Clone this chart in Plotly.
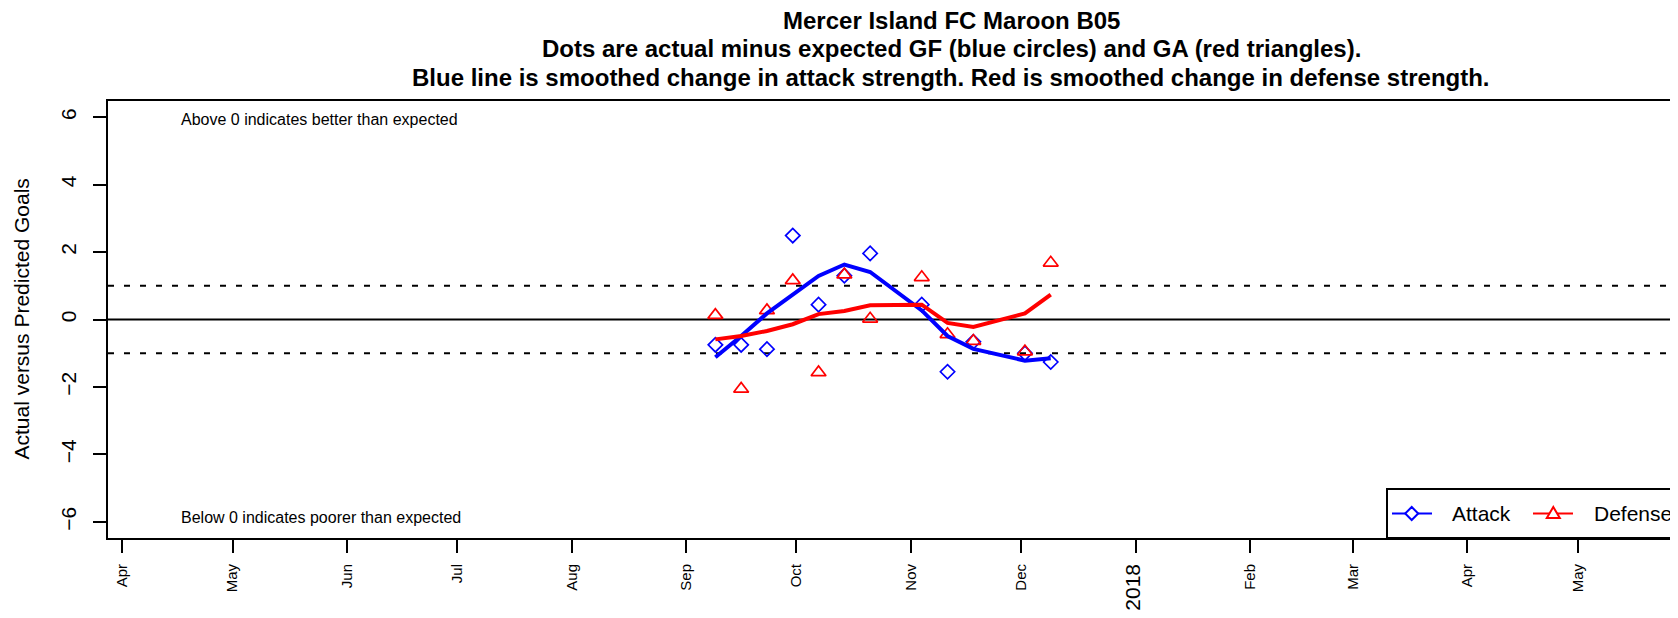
import plotly.graph_objects as go

# ---------------- data ----------------
game_dates = ["2017-09-09", "2017-09-16", "2017-09-23", "2017-09-30", "2017-10-07",
              "2017-10-14", "2017-10-21", "2017-11-04", "2017-11-11", "2017-11-18",
              "2017-12-02", "2017-12-09"]
attack_points = [-0.75, -0.75, -0.88, 2.49, 0.44, 1.30, 1.96, 0.44, -1.55, -0.66, -1.00, -1.26]
defense_points = [0.13, -2.06, 0.27, 1.16, -1.57, 1.33, 0.02, 1.25, -0.44, -0.64, -0.95, 1.68]
attack_smooth = [-1.12, -0.49, 0.18, 0.75, 1.29, 1.63, 1.41, 0.27, -0.49, -0.87, -1.22, -1.15]
defense_smooth = [-0.59, -0.49, -0.34, -0.14, 0.16, 0.25, 0.42, 0.44, -0.10, -0.22, 0.18, 0.74]

tick_dates = ["2017-04-01", "2017-05-01", "2017-06-01", "2017-07-01", "2017-08-01",
              "2017-09-01", "2017-10-01", "2017-11-01", "2017-12-01", "2018-01-01",
              "2018-02-01", "2018-03-01", "2018-04-01", "2018-05-01"]
tick_labels = ["Apr", "May", "Jun", "Jul", "Aug", "Sep", "Oct", "Nov", "Dec",
               "<span style='font-size:21px'>2018</span>", "Feb", "Mar", "Apr", "May"]
y_ticks = [-6, -4, -2, 0, 2, 4, 6]

title_lines = ["Mercer Island FC Maroon B05",
               "Dots are actual minus expected GF (blue circles) and GA (red triangles).",
               "Blue line is smoothed change in attack strength. Red is smoothed change in defense strength."]

# ---------------- layout geometry ----------------
# the page body has an 8px margin, so the figure is offset by OFF in the window
OFF = 8
W, H = 1678 - OFF, 618 - OFF
ML, MR, MT, MB = 100, 0, 93, 80
PW, PH = W - ML - MR, H - MT - MB
FONT = "Liberation Sans, Arial, Helvetica, sans-serif"
BLUE, RED = "#0000FF", "#FF0000"


def px(x):
    """window x pixel -> paper coordinate"""
    return (x - OFF - ML) / PW


def py(y):
    """window y pixel -> paper coordinate"""
    return (H - MB - (y - OFF)) / PH


fig = go.Figure()

fig.add_trace(go.Scatter(x=game_dates, y=attack_points, mode="markers", name="Attack",
                         marker=dict(symbol="diamond-open", size=11, color=BLUE,
                                     line=dict(width=1.7, color=BLUE)),
                         showlegend=False))
fig.add_trace(go.Scatter(x=game_dates, y=defense_points, mode="markers", name="Defense",
                         marker=dict(symbol="triangle-up-open", size=13, color=RED,
                                     line=dict(width=1.7, color=RED)),
                         showlegend=False))
fig.add_trace(go.Scatter(x=game_dates, y=attack_smooth, mode="lines",
                         line=dict(color=BLUE, width=4), showlegend=False))
fig.add_trace(go.Scatter(x=game_dates, y=defense_smooth, mode="lines",
                         line=dict(color=RED, width=4), showlegend=False))

shapes = []
# reference lines
shapes.append(dict(type="line", xref="paper", x0=0, x1=1, yref="y", y0=0, y1=0,
                   line=dict(color="black", width=2), layer="below"))
for yv in (1, -1):
    shapes.append(dict(type="line", xref="paper", x0=0, x1=1, yref="y", y0=yv, y1=yv,
                       line=dict(color="black", width=2, dash="6px,10px"), layer="below"))

# legend box (extends past right edge like the reference)
lx0, ly0, ly1 = 1387, 489, 538
shapes.append(dict(type="rect", xref="paper", yref="paper", x0=px(lx0), x1=px(1700),
                   y0=py(ly1), y1=py(ly0), line=dict(color="black", width=2),
                   fillcolor="white", layer="above"))
ley = 513.5
# attack legend symbol
shapes.append(dict(type="line", xref="paper", yref="paper", x0=px(1392), x1=px(1432),
                   y0=py(ley), y1=py(ley), line=dict(color=BLUE, width=2), layer="above"))
cx, r = 1411.7, 6.5
shapes.append(dict(type="path", xref="paper", yref="paper", layer="above",
                   path=f"M{px(cx - r)},{py(ley)} L{px(cx)},{py(ley - r)} L{px(cx + r)},{py(ley)} L{px(cx)},{py(ley + r)} Z",
                   line=dict(color=BLUE, width=2), fillcolor="white"))
# defense legend symbol
shapes.append(dict(type="line", xref="paper", yref="paper", x0=px(1533), x1=px(1573),
                   y0=py(ley), y1=py(ley), line=dict(color=RED, width=2), layer="above"))
cx = 1553.3
shapes.append(dict(type="path", xref="paper", yref="paper", layer="above",
                   path=f"M{px(cx - 6.5)},{py(ley + 4.5)} L{px(cx)},{py(ley - 6.5)} L{px(cx + 6.5)},{py(ley + 4.5)} Z",
                   line=dict(color=RED, width=2), fillcolor="white"))

annotations = []
# titles
title_centers = [20, 48, 77]
for txt, cy in zip(title_lines, title_centers):
    annotations.append(dict(text=f"<b>{txt}</b>", xref="paper", yref="paper",
                            x=px(951), y=1, xanchor="center", yanchor="middle",
                            yshift=MT - (cy - OFF), showarrow=False,
                            font=dict(family=FONT, size=24, color="black")))
# y axis title
annotations.append(dict(text="Actual versus Predicted Goals", xref="paper", yref="paper",
                        x=px(21), y=0.5, xanchor="center", yanchor="middle", textangle=-90,
                        showarrow=False, font=dict(family=FONT, size=21, color="black")))
# inside notes
annotations.append(dict(text="Above 0 indicates better than expected", xref="x", yref="y",
                        x="2017-04-16 14:00", y=6, xanchor="left", yanchor="middle", yshift=-2,
                        showarrow=False, font=dict(family=FONT, size=16, color="black")))
annotations.append(dict(text="Below 0 indicates poorer than expected", xref="x", yref="y",
                        x="2017-04-16 14:00", y=-6, xanchor="left", yanchor="middle", yshift=4,
                        showarrow=False, font=dict(family=FONT, size=16, color="black")))
# legend labels
for txt, lx in (("Attack", 1450), ("Defense", 1592)):
    annotations.append(dict(text=txt, xref="paper", yref="paper", x=px(lx), y=py(ley),
                            xanchor="left", yanchor="middle", showarrow=False,
                            font=dict(family=FONT, size=21, color="black")))

fig.update_layout(
    width=W, height=H, autosize=False,
    margin=dict(l=ML, r=MR, t=MT, b=MB, pad=0),
    paper_bgcolor="white", plot_bgcolor="white",
    font=dict(family=FONT, color="black"),
    showlegend=False,
    shapes=shapes, annotations=annotations,
    xaxis=dict(type="date", range=["2017-03-28 04:48", "2018-05-28 04:48"],
               tickmode="array", tickvals=tick_dates, ticktext=tick_labels,
               tickangle=-90, ticks="outside", ticklen=13, tickwidth=2, tickcolor="black",
               ticklabelstandoff=5,
               tickfont=dict(family=FONT, size=15, color="black"),
               showline=True, linewidth=2, linecolor="black", mirror=True,
               showgrid=False, zeroline=False),
    yaxis=dict(range=[-6.48, 6.48], tickmode="array", tickvals=y_ticks,
               tickangle=-90, ticks="outside", ticklen=13, tickwidth=2, tickcolor="black",
               ticklabelstandoff=9,
               tickfont=dict(family=FONT, size=21, color="black"),
               showline=True, linewidth=2, linecolor="black", mirror=False,
               showgrid=False, zeroline=False),
)

fig.write_html("out.html")
